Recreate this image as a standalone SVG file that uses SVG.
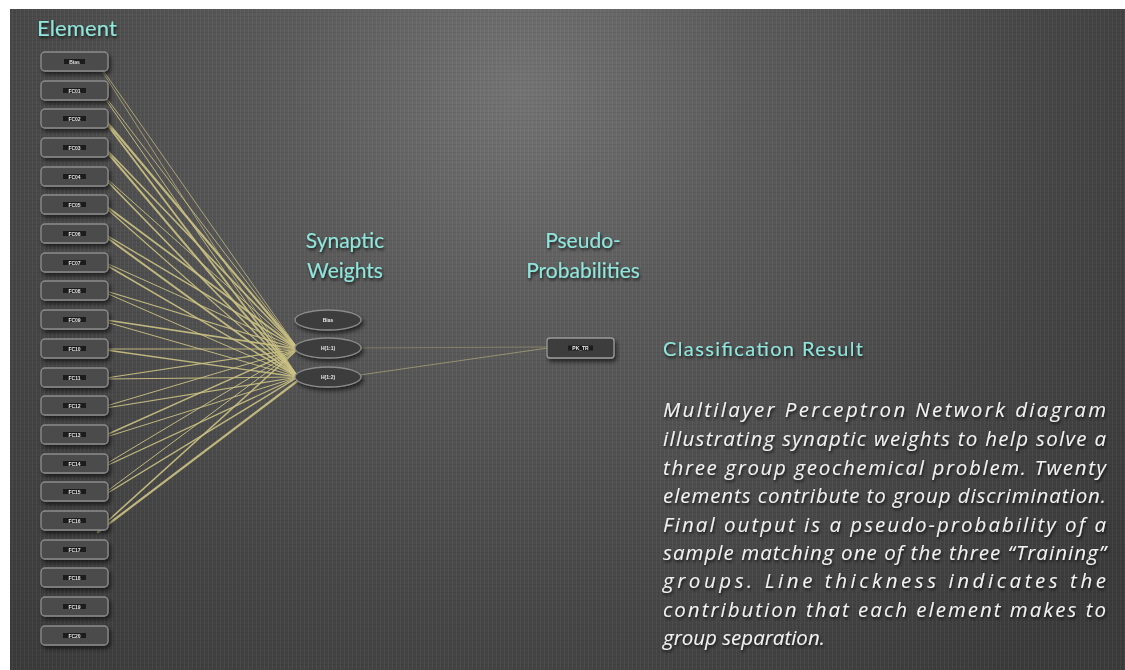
<svg xmlns="http://www.w3.org/2000/svg" width="1125" height="670" viewBox="0 0 1125 670">
<defs>
<radialGradient id="bg" cx="520" cy="90" r="760" gradientUnits="userSpaceOnUse">
<stop offset="0" stop-color="#737373"/>
<stop offset="0.3" stop-color="#5c5c5c"/>
<stop offset="0.7" stop-color="#464646"/>
<stop offset="1" stop-color="#3b3b3b"/>
</radialGradient>
<pattern id="tex" width="4" height="4" patternUnits="userSpaceOnUse">
<rect width="4" height="1" fill="#000" opacity="0.35"/>
<rect width="1" height="4" fill="#fff" opacity="0.25"/>
</pattern>
<filter id="sh" x="-30%" y="-50%" width="160%" height="220%">
<feDropShadow dx="2" dy="3" stdDeviation="2" flood-color="#000" flood-opacity="0.6"/>
</filter>
<filter id="tsh" x="-10%" y="-30%" width="120%" height="170%">
<feDropShadow dx="1" dy="2" stdDeviation="1.5" flood-color="#000" flood-opacity="0.75"/>
</filter>
</defs>
<style>
.box{fill:#4b4b4b;stroke:#8c8c8c;stroke-width:1.3}
.ell{fill:#3e3e3e;stroke:#8a8a8a;stroke-width:1.3}
.lab{fill:#1e1e1e}
.lt{font-family:"Liberation Sans",Arial,sans-serif;font-size:5px;font-weight:bold;fill:#e8e8e8;text-anchor:middle}
.head{font-family:Lato,"Open Sans",sans-serif;fill:#8fe6dc}
.para{font-family:"Open Sans",Lato,sans-serif;font-style:italic;font-size:20.5px;font-weight:500;fill:#f2f2f2}
#connectors line{stroke:#cdc384;stroke-linecap:round;opacity:0.9}
</style>
<rect width="1125" height="670" fill="#ffffff"/>
<rect x="10" y="9" width="1115" height="661" fill="url(#bg)"/>
<rect x="10" y="9" width="1115" height="661" fill="url(#tex)" opacity="0.18"/>

<g id="connectors">
<line x1="100" y1="66" x2="298" y2="349" stroke-width="0.8"/>
<line x1="100" y1="68" x2="298" y2="377" stroke-width="0.7"/>
<line x1="104" y1="95" x2="298" y2="349" stroke-width="0.9"/>
<line x1="104" y1="97" x2="298" y2="377" stroke-width="1"/>
<line x1="106" y1="121" x2="298" y2="349" stroke-width="2.2"/>
<line x1="106" y1="123" x2="298" y2="377" stroke-width="1.8"/>
<line x1="106" y1="149" x2="298" y2="349" stroke-width="1.6"/>
<line x1="106" y1="151" x2="298" y2="377" stroke-width="2"/>
<line x1="106" y1="178" x2="298" y2="349" stroke-width="1"/>
<line x1="106" y1="180" x2="298" y2="377" stroke-width="1.6"/>
<line x1="106" y1="206" x2="298" y2="349" stroke-width="1.8"/>
<line x1="106" y1="208" x2="298" y2="377" stroke-width="1.2"/>
<line x1="106" y1="235" x2="298" y2="349" stroke-width="1.4"/>
<line x1="106" y1="237" x2="298" y2="377" stroke-width="2"/>
<line x1="106" y1="263" x2="298" y2="349" stroke-width="1"/>
<line x1="106" y1="265" x2="298" y2="377" stroke-width="1.5"/>
<line x1="106" y1="291" x2="298" y2="349" stroke-width="1.2"/>
<line x1="106" y1="293" x2="298" y2="377" stroke-width="1"/>
<line x1="106" y1="320" x2="298" y2="349" stroke-width="1.6"/>
<line x1="106" y1="322" x2="298" y2="377" stroke-width="1"/>
<line x1="106" y1="349" x2="298" y2="349" stroke-width="1"/>
<line x1="106" y1="350" x2="298" y2="377" stroke-width="1.4"/>
<line x1="106" y1="378" x2="298" y2="349" stroke-width="1.2"/>
<line x1="106" y1="379" x2="298" y2="377" stroke-width="1"/>
<line x1="106" y1="406" x2="298" y2="349" stroke-width="1"/>
<line x1="106" y1="408" x2="298" y2="377" stroke-width="1.2"/>
<line x1="106" y1="435" x2="298" y2="349" stroke-width="1.4"/>
<line x1="106" y1="437" x2="298" y2="377" stroke-width="1"/>
<line x1="106" y1="464" x2="298" y2="349" stroke-width="1"/>
<line x1="106" y1="466" x2="298" y2="377" stroke-width="1.2"/>
<line x1="106" y1="492" x2="298" y2="349" stroke-width="1"/>
<line x1="106" y1="494" x2="298" y2="377" stroke-width="1.4"/>
<line x1="100" y1="528" x2="298" y2="349" stroke-width="1.6"/>
<line x1="98" y1="532" x2="300" y2="379" stroke-width="2.2"/>
<line x1="360" y1="375" x2="548" y2="348" stroke-width="0.6"/>
<line x1="361" y1="348" x2="548" y2="347" stroke-width="0.4"/>
</g>

<text class="head" x="37" y="36" font-size="22" textLength="80" filter="url(#tsh)">Element</text>

<g id="in-bias" filter="url(#sh)"><rect class="box" x="41" y="52" width="67" height="19" rx="4"/><rect class="lab" x="64" y="59" width="21" height="5"/><text class="lt" x="74.5" y="63.5">Bias</text></g>
<g id="in-fc01" filter="url(#sh)"><rect class="box" x="41" y="81" width="67" height="19" rx="4"/><rect class="lab" x="63" y="88" width="23" height="5"/><text class="lt" x="74.5" y="92.5">FC01</text></g>
<g id="in-fc02" filter="url(#sh)"><rect class="box" x="41" y="109" width="67" height="19" rx="4"/><rect class="lab" x="63" y="116" width="23" height="5"/><text class="lt" x="74.5" y="120.5">FC02</text></g>
<g id="in-fc03" filter="url(#sh)"><rect class="box" x="41" y="138" width="67" height="19" rx="4"/><rect class="lab" x="63" y="145" width="23" height="5"/><text class="lt" x="74.5" y="149.5">FC03</text></g>
<g id="in-fc04" filter="url(#sh)"><rect class="box" x="41" y="167" width="67" height="19" rx="4"/><rect class="lab" x="63" y="174" width="23" height="5"/><text class="lt" x="74.5" y="178.5">FC04</text></g>
<g id="in-fc05" filter="url(#sh)"><rect class="box" x="41" y="195" width="67" height="19" rx="4"/><rect class="lab" x="63" y="202" width="23" height="5"/><text class="lt" x="74.5" y="206.5">FC05</text></g>
<g id="in-fc06" filter="url(#sh)"><rect class="box" x="41" y="224" width="67" height="19" rx="4"/><rect class="lab" x="63" y="231" width="23" height="5"/><text class="lt" x="74.5" y="235.5">FC06</text></g>
<g id="in-fc07" filter="url(#sh)"><rect class="box" x="41" y="253" width="67" height="19" rx="4"/><rect class="lab" x="63" y="260" width="23" height="5"/><text class="lt" x="74.5" y="264.5">FC07</text></g>
<g id="in-fc08" filter="url(#sh)"><rect class="box" x="41" y="281" width="67" height="19" rx="4"/><rect class="lab" x="63" y="288" width="23" height="5"/><text class="lt" x="74.5" y="292.5">FC08</text></g>
<g id="in-fc09" filter="url(#sh)"><rect class="box" x="41" y="310" width="67" height="19" rx="4"/><rect class="lab" x="63" y="317" width="23" height="5"/><text class="lt" x="74.5" y="321.5">FC09</text></g>
<g id="in-fc10" filter="url(#sh)"><rect class="box" x="41" y="339" width="67" height="19" rx="4"/><rect class="lab" x="63" y="346" width="23" height="5"/><text class="lt" x="74.5" y="350.5">FC10</text></g>
<g id="in-fc11" filter="url(#sh)"><rect class="box" x="41" y="368" width="67" height="19" rx="4"/><rect class="lab" x="63" y="375" width="23" height="5"/><text class="lt" x="74.5" y="379.5">FC11</text></g>
<g id="in-fc12" filter="url(#sh)"><rect class="box" x="41" y="396" width="67" height="19" rx="4"/><rect class="lab" x="63" y="403" width="23" height="5"/><text class="lt" x="74.5" y="407.5">FC12</text></g>
<g id="in-fc13" filter="url(#sh)"><rect class="box" x="41" y="425" width="67" height="19" rx="4"/><rect class="lab" x="63" y="432" width="23" height="5"/><text class="lt" x="74.5" y="436.5">FC13</text></g>
<g id="in-fc14" filter="url(#sh)"><rect class="box" x="41" y="454" width="67" height="19" rx="4"/><rect class="lab" x="63" y="461" width="23" height="5"/><text class="lt" x="74.5" y="465.5">FC14</text></g>
<g id="in-fc15" filter="url(#sh)"><rect class="box" x="41" y="482" width="67" height="19" rx="4"/><rect class="lab" x="63" y="489" width="23" height="5"/><text class="lt" x="74.5" y="493.5">FC15</text></g>
<g id="in-fc16" filter="url(#sh)"><rect class="box" x="41" y="511" width="67" height="19" rx="4"/><rect class="lab" x="63" y="518" width="23" height="5"/><text class="lt" x="74.5" y="522.5">FC16</text></g>
<g id="in-fc17" filter="url(#sh)"><rect class="box" x="41" y="540" width="67" height="19" rx="4"/><rect class="lab" x="63" y="547" width="23" height="5"/><text class="lt" x="74.5" y="551.5">FC17</text></g>
<g id="in-fc18" filter="url(#sh)"><rect class="box" x="41" y="568" width="67" height="19" rx="4"/><rect class="lab" x="63" y="575" width="23" height="5"/><text class="lt" x="74.5" y="579.5">FC18</text></g>
<g id="in-fc19" filter="url(#sh)"><rect class="box" x="41" y="597" width="67" height="19" rx="4"/><rect class="lab" x="63" y="604" width="23" height="5"/><text class="lt" x="74.5" y="608.5">FC19</text></g>
<g id="in-fc20" filter="url(#sh)"><rect class="box" x="41" y="626" width="67" height="19" rx="4"/><rect class="lab" x="63" y="633" width="23" height="5"/><text class="lt" x="74.5" y="637.5">FC20</text></g>

<text class="head" x="345" y="248" font-size="21" text-anchor="middle" filter="url(#tsh)">Synaptic</text>
<text class="head" x="345" y="278" font-size="21" text-anchor="middle" filter="url(#tsh)">Weights</text>

<g id="hid-bias" filter="url(#sh)"><ellipse class="ell" cx="328" cy="320" rx="33" ry="10"/><text class="lt" x="328" y="322">Bias</text></g>
<g id="hid-h11" filter="url(#sh)"><ellipse class="ell" cx="328" cy="348" rx="33" ry="10"/><text class="lt" x="328" y="350">H(1:1)</text></g>
<g id="hid-h12" filter="url(#sh)"><ellipse class="ell" cx="328" cy="377" rx="33" ry="10"/><text class="lt" x="328" y="379">H(1:2)</text></g>

<text class="head" x="583" y="248" font-size="21" text-anchor="middle" filter="url(#tsh)">Pseudo-</text>
<text class="head" x="583" y="278" font-size="21" text-anchor="middle" filter="url(#tsh)">Probabilities</text>

<g id="out" filter="url(#sh)"><rect class="box" x="547" y="338" width="67" height="20" rx="3" style="fill:#3c3c3c;stroke:#9a9a9a"/><rect class="lab" x="568" y="345.5" width="25" height="5"/><text class="lt" x="580.5" y="350">PK_TR</text></g>

<text class="head" x="663" y="356" font-size="20" textLength="200" filter="url(#tsh)">Classification Result</text>

<g id="caption" class="para" filter="url(#tsh)">
<text x="663" y="417" textLength="443" lengthAdjust="spacing">Multilayer Perceptron Network diagram</text>
<text x="663" y="446" textLength="443" lengthAdjust="spacing">illustrating synaptic weights to help solve a</text>
<text x="663" y="475" textLength="443" lengthAdjust="spacing">three group geochemical problem. Twenty</text>
<text x="663" y="503" textLength="443" lengthAdjust="spacing">elements contribute to group discrimination.</text>
<text x="663" y="532" textLength="443" lengthAdjust="spacing">Final output is a pseudo-probability of a</text>
<text x="663" y="560" textLength="443" lengthAdjust="spacing">sample matching one of the three “Training”</text>
<text x="663" y="588" textLength="443" lengthAdjust="spacing">groups. Line thickness indicates the</text>
<text x="663" y="617" textLength="443" lengthAdjust="spacing">contribution that each element makes to</text>
<text x="663" y="645">group separation.</text>
</g>
</svg>
